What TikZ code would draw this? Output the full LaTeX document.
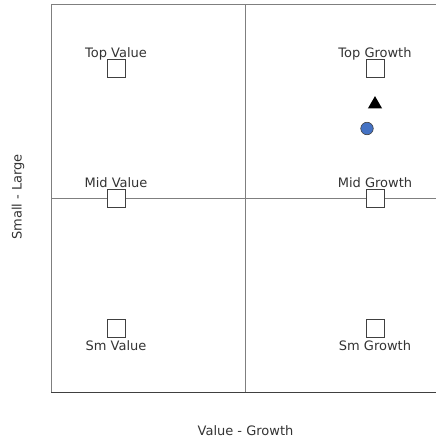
\documentclass[tikz,border=0pt]{standalone}
\usepackage{fontspec}
\setmainfont{DejaVu Sans}
\usetikzlibrary{shapes.geometric}
\definecolor{gridgray}{HTML}{7F7F7F}
\definecolor{framedark}{HTML}{404040}
\definecolor{textgray}{HTML}{333333}
\definecolor{dotblue}{HTML}{4472C4}
\begin{document}
\begin{tikzpicture}[x=1pt,y=-1pt,
                    font=\fontsize{13}{15}\selectfont,
                    box node/.style={rectangle,draw=framedark,fill=white,line width=0.8pt,minimum size=18pt,inner sep=0pt},
                    label node/.style={text=textgray,anchor=base,inner sep=0pt}
                   ]
  \useasboundingbox (0,0) rectangle (436,439);

  % frame and quadrant lines
  \coordinate (tl) at (51,4);
  \coordinate (tr) at (436,4);
  \coordinate (bl) at (51,392.5);
  \coordinate (br) at (436,392.5);
  \coordinate (vt) at (245.5,4);
  \coordinate (vb) at (245.5,392.5);
  \coordinate (hl) at (51,198);
  \coordinate (hr) at (436,198);
  \draw[gridgray,line width=1pt] (bl) -- (tl) -- (tr);
  \draw[gridgray,line width=1pt] (vt) -- (vb);
  \draw[gridgray,line width=1pt] (hl) -- (hr);
  \draw[framedark,line width=1.6pt] (bl) -- (br);

  % style boxes
  \node[box node] (tv) at (116,68) {};
  \node[box node] (tg) at (375,68) {};
  \node[box node] (mv) at (116,198) {};
  \node[box node] (mg) at (375,198) {};
  \node[box node] (sv) at (116,328) {};
  \node[box node] (sg) at (375,328) {};

  % box labels
  \node[label node] (tvl) at (116,57) {Top Value};
  \node[label node] (tgl) at (375,57) {Top Growth};
  \node[label node] (mvl) at (116,187) {Mid Value};
  \node[label node] (mgl) at (375,187) {Mid Growth};
  \node[label node] (svl) at (116,350) {Sm Value};
  \node[label node] (sgl) at (375,350) {Sm Growth};

  % markers
  \node[regular polygon,regular polygon sides=3,fill=black,minimum size=16.2pt,inner sep=0pt] (tri) at (375,104.2) {};
  \node[circle,draw=framedark,fill=dotblue,line width=0.6pt,minimum size=12.5pt,inner sep=0pt] (dot) at (367,128.5) {};

  % axis titles
  \node[label node] (xaxis) at (245.5,435) {Value - Growth};
  \node[text=textgray,inner sep=0pt,rotate=90] (yaxis) at (18,197) {Small - Large};
\end{tikzpicture}
\end{document}
